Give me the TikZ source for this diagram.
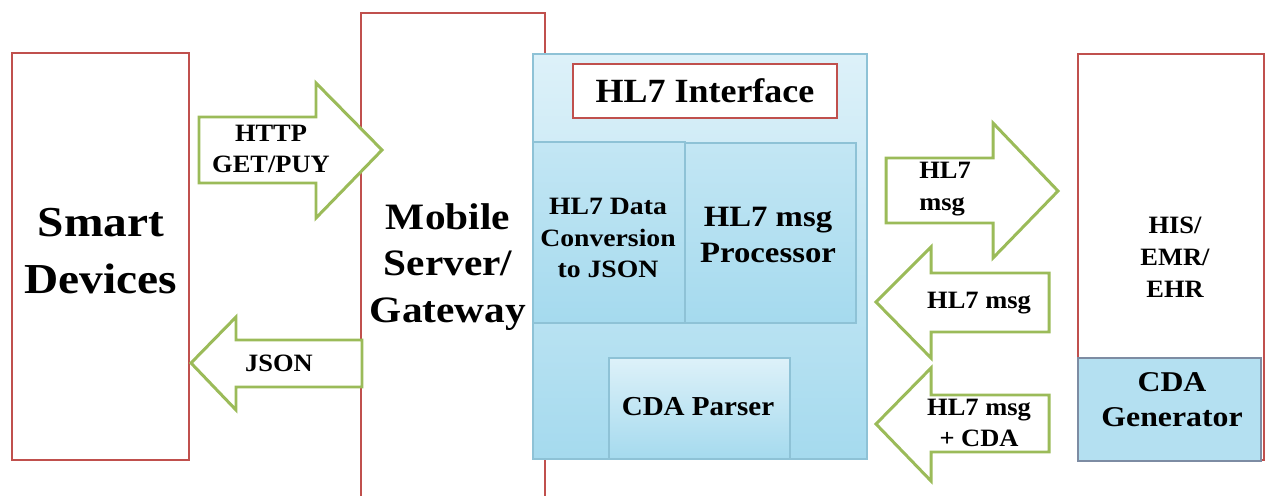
\documentclass[tikz,border=0pt]{standalone}
\usepackage{fontspec}
\setmainfont{Liberation Serif}[FakeStretch=1.06]
\newfontfamily\widefont{Liberation Serif}[FakeStretch=1.11]
\usetikzlibrary{fit}

\definecolor{boxred}{HTML}{C0504D}
\definecolor{arrowgreen}{HTML}{9BBB59}
\definecolor{paleblue}{HTML}{DDF1F9}
\definecolor{midblue}{HTML}{B4E0F1}
\definecolor{deepblue}{HTML}{A5DAEE}
\definecolor{blueedge}{HTML}{8EC2D6}
\definecolor{slateedge}{HTML}{7D8CA3}

\newcommand{\fsz}[2]{\fontsize{#1}{#2}\selectfont\bfseries}
\newcommand{\wfsz}[2]{\widefont\fontsize{#1}{#2}\selectfont\bfseries}

\tikzset{
  redbox/.style={draw=boxred, line width=1.6pt, fill=white},
  blockarrow/.style={draw=arrowgreen, line width=1.7pt, fill=white, line join=miter},
  bluepanel/.style={draw=blueedge, line width=0.6pt, top color=paleblue, bottom color=deepblue},
  bluecell/.style={draw=blueedge, line width=0.6pt, top color=midblue!80!white, bottom color=deepblue},
  fitbox/.style={inner sep=0pt},
  lbl/.style={align=center, inner sep=0pt, text=black},
  hugetxt/.style={lbl, font=\wfsz{24.3}{32.3}},
  bigtxt/.style={lbl, font=\wfsz{21.2}{26.4}},
  midtxt/.style={lbl, font=\fsz{15.6}{19.8}},
  widemidtxt/.style={lbl, font=\wfsz{16.3}{19.8}},
  smalltxt/.style={lbl, font=\fsz{14.2}{18.1}},
}

\begin{document}
\begin{tikzpicture}[x=0.02cm, y=-0.02cm]
\useasboundingbox (0,0) rectangle (1267,496);

% outer systems
\node[redbox, fitbox, fit={(12,53) (189,460)}] (smart) {};
\node[hugetxt] (smarttxt) at (101,251) {Smart\\Devices};

\coordinate (gwbl) at (361,498);
\coordinate (gwtl) at (361,13);
\coordinate (gwtr) at (545,13);
\coordinate (gwbr) at (545,498);
\draw[redbox] (gwbl) -- (gwtl) -- (gwtr) -- (gwbr);
\node[bigtxt] (gwtxt) at (448,267) {Mobile\\Server/\\Gateway};

\node[redbox, fitbox, fit={(1078,54) (1264,460)}] (his) {};
\node[smalltxt] (histxt) at (1175,257) {HIS/\\EMR/\\EHR};

% HL7 interface panel
\node[bluepanel, fitbox, fit={(533,54) (867,459)}] (hl7) {};
\node[redbox, fitbox, fit={(573,64) (837,118)}] (hl7title) {};
\node[lbl, font=\fsz{19.3}{24}] at (hl7title.center) {HL7 Interface};

\node[bluecell, fitbox, fit={(533,142) (685,323)}] (conv) {};
\node[smalltxt, font=\wfsz{14.2}{18.1}] at (608,238) {HL7 Data\\Conversion\\to JSON};

\node[bluecell, fitbox, fit={(685,143) (856,323)}] (proc) {};
\node[widemidtxt, font=\wfsz{16.8}{20.2}] at (768,235) {HL7 msg\\Processor};

\node[bluecell, top color=paleblue, fitbox, fit={(609,358) (790,459)}] (parser) {};
\node[midtxt] at (698,407) {CDA Parser};

\node[draw=slateedge, line width=1pt, fill=midblue, fitbox, fit={(1078,358) (1261,461)}] (gen) {};
\node[widemidtxt] at (1172,400) {CDA\\Generator};

% block arrows
\draw[blockarrow] (199,117) -- (316,117) -- (316,83) -- (382,150) -- (316,218) -- (316,183) -- (199,183) -- cycle;
\node[smalltxt] at (271,149) {HTTP\\GET/PUY};

\draw[blockarrow] (362,340) -- (236,340) -- (236,317) -- (191,363) -- (236,410) -- (236,387) -- (362,387) -- cycle;
\node[smalltxt] at (279,363) {JSON};

\draw[blockarrow] (886,158) -- (993,158) -- (993,123) -- (1058,191) -- (993,258) -- (993,223) -- (886,223) -- cycle;
\node[smalltxt, align=left, anchor=west] at (919,189) {HL7\\msg};

\draw[blockarrow] (1049,273) -- (931,273) -- (931,247) -- (876,302) -- (931,358) -- (931,332) -- (1049,332) -- cycle;
\node[smalltxt] at (979,303) {HL7 msg};

\draw[blockarrow] (1049,395) -- (931,395) -- (931,368) -- (876,424) -- (931,481) -- (931,452) -- (1049,452) -- cycle;
\node[smalltxt] at (979,423) {HL7 msg\\+ CDA};
\end{tikzpicture}
\end{document}
